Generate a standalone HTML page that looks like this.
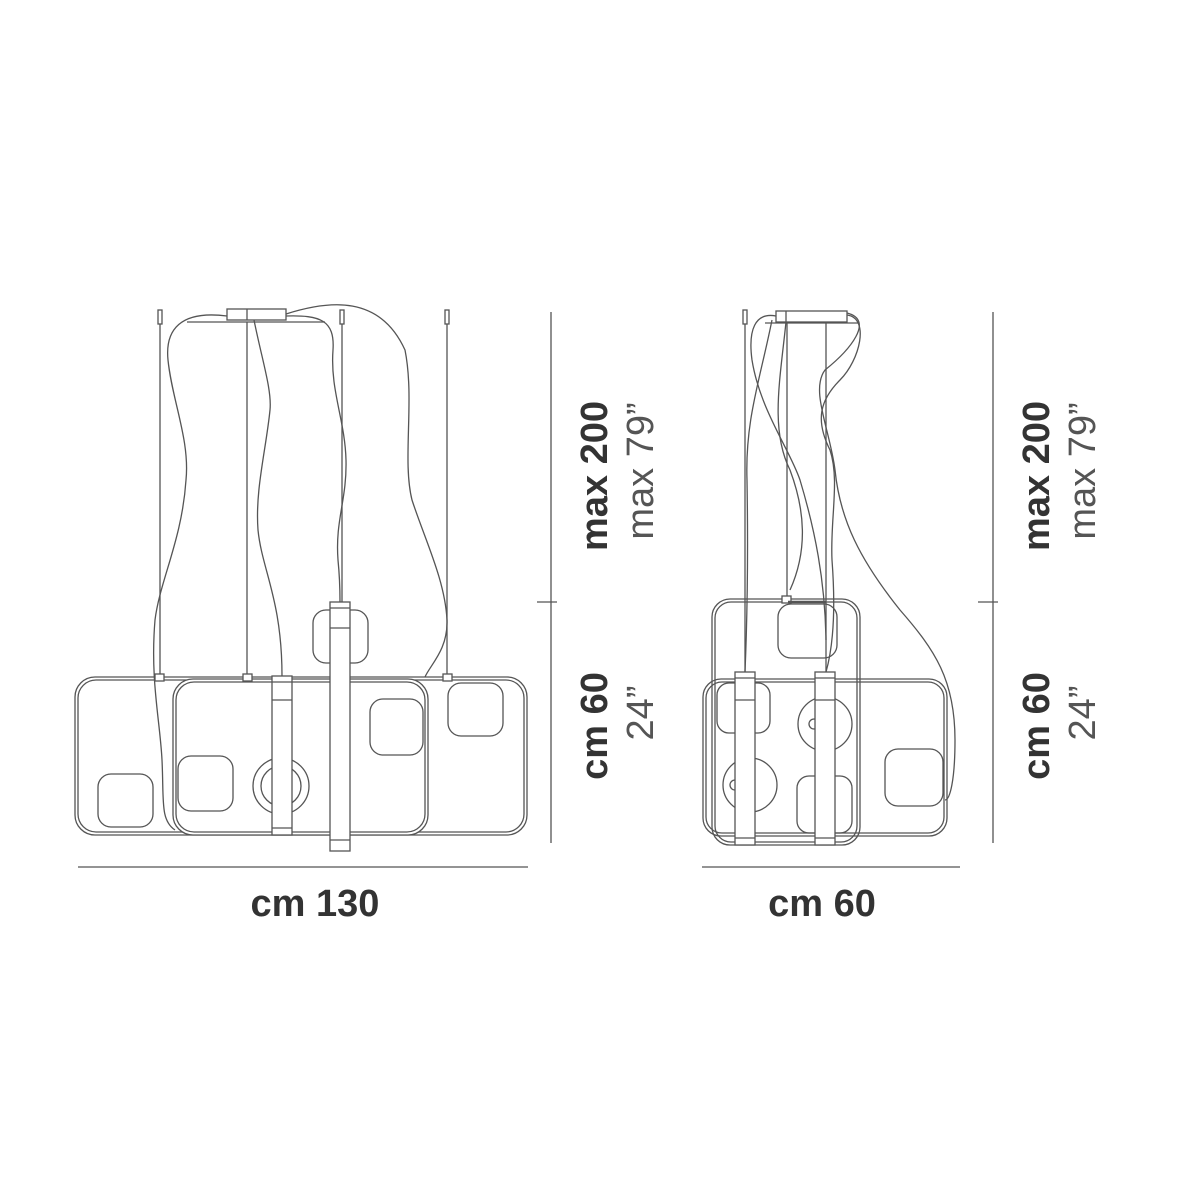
<!DOCTYPE html>
<html><head><meta charset="utf-8"><style>
html,body{margin:0;padding:0;background:#fff;width:1200px;height:1200px;overflow:hidden}
svg{display:block}
.t{font-family:"Liberation Sans",sans-serif;fill:#333}
</style></head><body>
<svg width="1200" height="1200" viewBox="0 0 1200 1200" xmlns="http://www.w3.org/2000/svg">
<g fill="none" stroke="#555" stroke-width="1.3">
<!-- LEFT -->
<rect x="227" y="309" width="59" height="11" fill="#fff"/>
<line x1="187" y1="322" x2="325" y2="322"/>
<line x1="247" y1="309" x2="247" y2="320"/>
<g>
<rect x="158" y="310" width="4" height="14"/><line x1="160" y1="324" x2="160" y2="677"/>
<rect x="340" y="310" width="4" height="14"/><line x1="342" y1="324" x2="342" y2="602"/>
<rect x="445" y="310" width="4" height="14"/><line x1="447" y1="324" x2="447" y2="677"/>
<line x1="247" y1="322" x2="247" y2="677"/>
</g>
<rect x="75" y="677" width="452" height="158" rx="20"/>
<rect x="78" y="680" width="446" height="152" rx="18"/>
<rect x="173" y="679" width="255" height="156" rx="20" fill="#fff"/>
<rect x="176" y="682" width="249" height="150" rx="18"/>
<rect x="155" y="674" width="9" height="7" fill="#fff"/>
<rect x="243" y="674" width="9" height="7" fill="#fff"/>
<rect x="443" y="674" width="9" height="7" fill="#fff"/>
<rect x="98" y="774" width="55" height="53" rx="13"/>
<rect x="178" y="756" width="55" height="55" rx="13"/>
<rect x="370" y="699" width="53" height="56" rx="13"/>
<rect x="448" y="683" width="55" height="53" rx="13"/>
<circle cx="281" cy="786" r="28"/><circle cx="281" cy="786" r="20"/>
<rect x="272" y="676" width="20" height="159" fill="#fff"/>
<line x1="272" y1="682" x2="292" y2="682"/><line x1="272" y1="700" x2="292" y2="700"/><line x1="272" y1="828" x2="292" y2="828"/>
<rect x="313" y="610" width="55" height="53" rx="13"/>
<rect x="330" y="602" width="20" height="249" fill="#fff"/>
<line x1="330" y1="608" x2="350" y2="608"/><line x1="330" y1="628" x2="350" y2="628"/><line x1="330" y1="840" x2="350" y2="840"/>
<path d="M227 316 C180 310 165 330 168 360 C172 400 190 440 186 480 C182 540 160 580 155 620 C150 680 160 720 162 760 C164 800 160 820 175 830"/>
<path d="M254 320 C262 360 272 390 270 410 C266 450 255 490 258 530 C262 570 282 600 282 676"/>
<path d="M286 316 C320 315 335 320 333 350 C330 390 345 420 346 460 C347 500 335 520 338 560 C340 580 340 595 340 602"/>
<path d="M286 314 C330 300 380 295 405 350 C415 400 402 460 412 500 C425 540 445 580 447 620 C448 650 430 665 425 677"/>
<line x1="551" y1="312" x2="551" y2="843"/>
<line x1="537" y1="602" x2="557" y2="602"/>
<line x1="78" y1="867" x2="528" y2="867"/>
<!-- RIGHT -->
<rect x="776" y="311" width="71" height="11" fill="#fff"/>
<line x1="765" y1="323" x2="858" y2="323"/>
<line x1="786" y1="311" x2="786" y2="322"/>
<rect x="743" y="310" width="4" height="14"/>
<line x1="745" y1="324" x2="745" y2="672"/>
<line x1="787" y1="323" x2="787" y2="599"/>
<line x1="826" y1="323" x2="826" y2="672"/>
<rect x="712" y="599" width="148" height="246" rx="18"/>
<rect x="715" y="602" width="142" height="240" rx="16"/>
<rect x="703" y="679" width="244" height="157" rx="18"/>
<rect x="706" y="682" width="238" height="151" rx="16"/>
<rect x="782" y="596" width="9" height="7" fill="#fff"/>
<line x1="788" y1="602" x2="826" y2="602" stroke-width="2.5"/>
<rect x="778" y="604" width="59" height="54" rx="13"/>
<rect x="885" y="749" width="58" height="57" rx="13"/>
<rect x="717" y="683" width="53" height="50" rx="12"/>
<circle cx="750" cy="785" r="27"/><circle cx="735" cy="785" r="5"/>
<circle cx="825" cy="724" r="27"/><circle cx="814" cy="724" r="5"/>
<rect x="797" y="776" width="55" height="57" rx="12"/>
<rect x="735" y="672" width="20" height="173" fill="#fff"/>
<line x1="735" y1="678" x2="755" y2="678"/><line x1="735" y1="700" x2="755" y2="700"/><line x1="735" y1="838" x2="755" y2="838"/>
<rect x="815" y="672" width="20" height="173" fill="#fff"/>
<line x1="815" y1="678" x2="835" y2="678"/><line x1="815" y1="700" x2="835" y2="700"/><line x1="815" y1="838" x2="835" y2="838"/>
<path d="M776 316 C755 312 748 330 752 360 C760 410 790 450 800 480 C815 530 825 580 826 640"/>
<path d="M786 322 C780 380 770 430 790 470 C805 510 808 550 790 590"/>
<path d="M847 315 C870 318 860 360 840 380 C820 400 815 420 830 450 C840 480 830 520 832 560 C835 600 835 640 826 672"/>
<path d="M847 313 C875 320 850 350 825 370 C810 390 830 430 835 470 C840 520 860 560 900 610 C935 650 955 680 955 740 C955 780 950 800 945 800"/>
<path d="M772 320 C760 380 745 420 747 480 C748 540 748 600 745 672"/>
<line x1="993" y1="312" x2="993" y2="843"/>
<line x1="978" y1="602" x2="998" y2="602"/>
<line x1="702" y1="867" x2="960" y2="867"/>
</g>
<text class="t" x="315" y="916" font-size="38" font-weight="bold" text-anchor="middle">cm 130</text>
<text class="t" x="822" y="916" font-size="38" font-weight="bold" text-anchor="middle">cm 60</text>
<g transform="translate(607,476) rotate(-90)"><text class="t" font-size="38" font-weight="bold" text-anchor="middle">max 200</text></g>
<g transform="translate(653,471) rotate(-90)"><text class="t" font-size="38" text-anchor="middle" style="fill:#555">max 79”</text></g>
<g transform="translate(607,726) rotate(-90)"><text class="t" font-size="38" font-weight="bold" text-anchor="middle">cm 60</text></g>
<g transform="translate(653,713) rotate(-90)"><text class="t" font-size="38" text-anchor="middle" style="fill:#555">24”</text></g>
<g transform="translate(1049,476) rotate(-90)"><text class="t" font-size="38" font-weight="bold" text-anchor="middle">max 200</text></g>
<g transform="translate(1095,471) rotate(-90)"><text class="t" font-size="38" text-anchor="middle" style="fill:#555">max 79”</text></g>
<g transform="translate(1049,726) rotate(-90)"><text class="t" font-size="38" font-weight="bold" text-anchor="middle">cm 60</text></g>
<g transform="translate(1095,713) rotate(-90)"><text class="t" font-size="38" text-anchor="middle" style="fill:#555">24”</text></g>
</svg>
</body></html>
